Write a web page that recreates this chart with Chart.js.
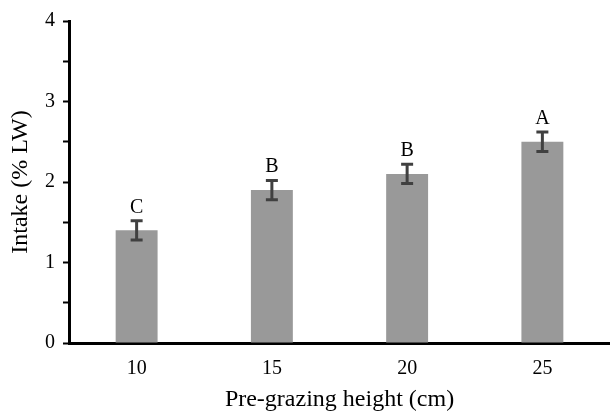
<!DOCTYPE html>
<html>
<head>
<meta charset="utf-8">
<script src="https://cdn.jsdelivr.net/npm/chart.js@4.4.1/dist/chart.umd.min.js"></script>
<style>
  html, body { margin: 0; padding: 0; background: #fff; }
  #wrap { width: 610px; height: 414px; }
</style>
</head>
<body>
<div id="wrap"><canvas id="chart"></canvas></div>
<script>
// data
const heights = ['10', '15', '20', '25'];
const intake = [1.4, 1.9, 2.1, 2.5];
const intakeErr = [0.12, 0.12, 0.12, 0.12];
const groupLetters = ['C', 'B', 'B', 'A'];

const serif = "'Liberation Serif', 'Times New Roman', serif";

// error bars + significance letters drawn through the scales
const errorBarPlugin = {
    id: 'errorBars',
    afterDatasetsDraw(chart) {
        const ctx = chart.ctx;
        const x = chart.scales.x;
        const y = chart.scales.y;
        ctx.save();
        ctx.strokeStyle = '#404040';
        ctx.lineWidth = 3;
        intake.forEach(function(v, i) {
            const px = x.getPixelForValue(i);
            const top = y.getPixelForValue(v + intakeErr[i]);
            const bot = y.getPixelForValue(v - intakeErr[i]);
            ctx.beginPath();
            ctx.moveTo(px, top);
            ctx.lineTo(px, bot);
            ctx.moveTo(px - 6, top);
            ctx.lineTo(px + 6, top);
            ctx.moveTo(px - 6, bot);
            ctx.lineTo(px + 6, bot);
            ctx.stroke();

            ctx.fillStyle = '#000';
            ctx.font = '20px ' + serif;
            ctx.textAlign = 'center';
            ctx.textBaseline = 'alphabetic';
            ctx.fillText(groupLetters[i], px, top - 8);
        });
        ctx.restore();
    }
};

const ctx = document.getElementById('chart').getContext('2d');
new Chart(ctx, {
    type: 'bar',
    data: {
        labels: heights,
        datasets: [{
            data: intake,
            backgroundColor: '#999999',
            borderWidth: 0,
            barPercentage: 0.31,
            categoryPercentage: 1.0
        }]
    },
    options: {
        responsive: true,
        maintainAspectRatio: false,
        animation: false,
        layout: {
            padding: { top: 21, right: 0, bottom: 0, left: 0 }
        },
        plugins: {
            legend: { display: false },
            tooltip: { enabled: false }
        },
        scales: {
            x: {
                grid: { display: false, drawTicks: false },
                border: { display: true, color: '#000', width: 3 },
                ticks: {
                    color: '#000',
                    padding: 14,
                    font: { family: serif, size: 20 }
                },
                title: {
                    display: true,
                    text: 'Pre-grazing height (cm)',
                    color: '#000',
                    font: { family: serif, size: 24 },
                    padding: { top: 0, bottom: 0 }
                },
                afterFit: function(scale) { scale.height = 71; }
            },
            y: {
                min: 0,
                max: 4,
                grid: {
                    drawOnChartArea: false,
                    drawTicks: true,
                    tickLength: 6,
                    tickWidth: 2,
                    tickColor: '#000'
                },
                border: { display: true, color: '#000', width: 3 },
                ticks: {
                    stepSize: 0.5,
                    color: '#000',
                    padding: 8,
                    font: { family: serif, size: 20 },
                    callback: function(value) {
                        return Number.isInteger(value) ? value : '';
                    }
                },
                title: {
                    display: true,
                    text: 'Intake (% LW)',
                    color: '#000',
                    font: { family: serif, size: 24 },
                    padding: { top: 6, bottom: 0 }
                },
                afterFit: function(scale) { scale.width = 69; }
            }
        }
    },
    plugins: [errorBarPlugin]
});
</script>
</body>
</html>
